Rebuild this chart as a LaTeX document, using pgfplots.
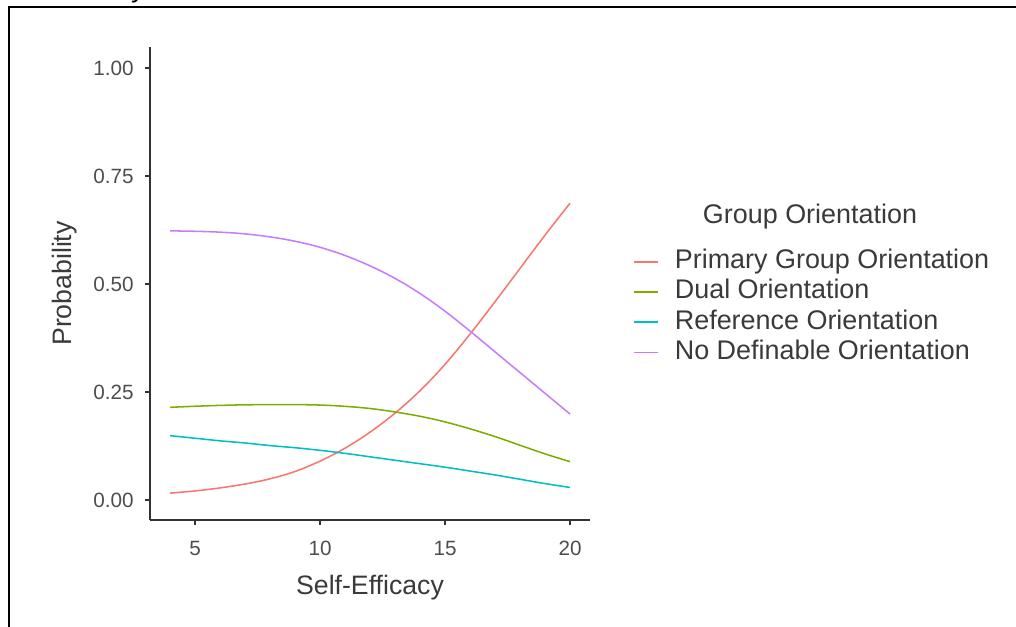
\documentclass[border=0pt]{standalone}
\usepackage{pgfplots}
\pgfplotsset{compat=1.18}
\usepackage{fontspec}
\setmainfont{Liberation Sans}
\definecolor{cR}{HTML}{F8766D}
\definecolor{cG}{HTML}{7CAE00}
\definecolor{cC}{HTML}{00BFC4}
\definecolor{cP}{HTML}{C77CFF}
\definecolor{tk}{HTML}{4D4D4D}
\definecolor{ttl}{HTML}{3A3A3A}
\definecolor{axl}{HTML}{333333}
\begin{document}
\begin{tikzpicture}
\path[use as bounding box] (0pt,0pt) rectangle (762pt,-470.25pt);
\begin{scope}
\clip (0pt,0pt) rectangle (762pt,-470.25pt);
\node[anchor=base, inner sep=0pt, font=\itshape\fontsize{20}{24}\selectfont] at (105pt,1.5pt) {y};
\end{scope}
\draw[line width=1.5pt, black] (6.75pt,-5.25pt) -- (762pt,-5.25pt);
\draw[line width=1.9pt, black] (6.75pt,-4.5pt) -- (6.75pt,-470.25pt);
\begin{axis}[
  at={(112.5pt,-35.25pt)}, anchor=north west,
  scale only axis, width=330pt, height=354.75pt,
  xmin=3.2, xmax=20.8, ymin=-0.0463, ymax=1.0486,
  axis x line*=bottom, axis y line*=left,
  axis line style={color=axl, line width=0.9pt, -},
  tick style={color=axl, line width=0.9pt},
  tick align=outside, major tick length=3.8pt,
  xtick={5,10,15,20}, ytick={0,0.25,0.5,0.75,1},
  yticklabels={0.00,0.25,0.50,0.75,1.00},
  /pgf/number format/assume math mode=true,
  tick label style={font=\fontsize{15.5}{18}\selectfont, text=tk},
  xticklabel style={yshift=-8.5pt},
  yticklabel style={xshift=-5pt},
  xlabel={Self-Efficacy}, ylabel={Probability},
  label style={font=\fontsize{20}{22}\selectfont, text=ttl},
  xlabel style={at={(axis description cs:0.5,-0.1438)}, anchor=center},
  ylabel style={at={(axis description cs:-0.193,0.5)}, anchor=center, rotate=0},
  legend style={draw=none, fill=none, at={(axis description cs:1.0977,0.578)}, anchor=north west,
    font=\color{ttl}\fontsize{20.2}{22}\selectfont, row sep=0pt, inner sep=0pt, outer sep=0pt,
    nodes={inner sep=0pt, text height=16.5pt, text depth=6.2pt}},
  legend cell align=left,
  legend image code/.code={\draw[#1, line width=1.4pt] (0pt,0pt) -- (18pt,0pt);},
  every axis plot/.append style={line width=1.15pt, smooth, tension=0.6},
  clip=false,
]
\addplot[color=cR] coordinates {(4,0.016)(5,0.021)(6,0.028)(7,0.037)(8,0.049)(9,0.066)(10,0.090)(11,0.120)(12,0.157)(13,0.201)(14,0.253)(15,0.314)(16,0.384)(17,0.459)(18,0.536)(19,0.613)(20,0.687)};
\addlegendentry{\hspace{12pt}Primary Group Orientation}
\addplot[color=cG] coordinates {(4,0.2145)(5,0.217)(6,0.219)(7,0.2203)(8,0.2208)(9,0.2208)(10,0.2198)(11,0.2168)(12,0.2118)(13,0.2038)(14,0.1938)(15,0.1808)(16,0.1648)(17,0.1468)(18,0.1268)(19,0.1068)(20,0.0888)};
\addlegendentry{\hspace{12pt}Dual Orientation}
\addplot[color=cC] coordinates {(4,0.149)(5,0.143)(6,0.137)(7,0.132)(8,0.126)(9,0.121)(10,0.115)(11,0.108)(12,0.100)(13,0.092)(14,0.084)(15,0.076)(16,0.067)(17,0.058)(18,0.048)(19,0.038)(20,0.029)};
\addlegendentry{\hspace{12pt}Reference Orientation}
\addplot[color=cP] coordinates {(4,0.623)(5,0.622)(6,0.620)(7,0.616)(8,0.609)(9,0.599)(10,0.585)(11,0.566)(12,0.542)(13,0.513)(14,0.478)(15,0.437)(16,0.391)(17,0.343)(18,0.295)(19,0.247)(20,0.199)};
\addlegendentry{\hspace{12pt}No Definable Orientation}
\end{axis}
\node[font=\fontsize{20.2}{22}\selectfont, text=ttl, inner sep=0pt] at (607.5pt,-162.75pt) {Group Orientation};
\end{tikzpicture}
\end{document}
